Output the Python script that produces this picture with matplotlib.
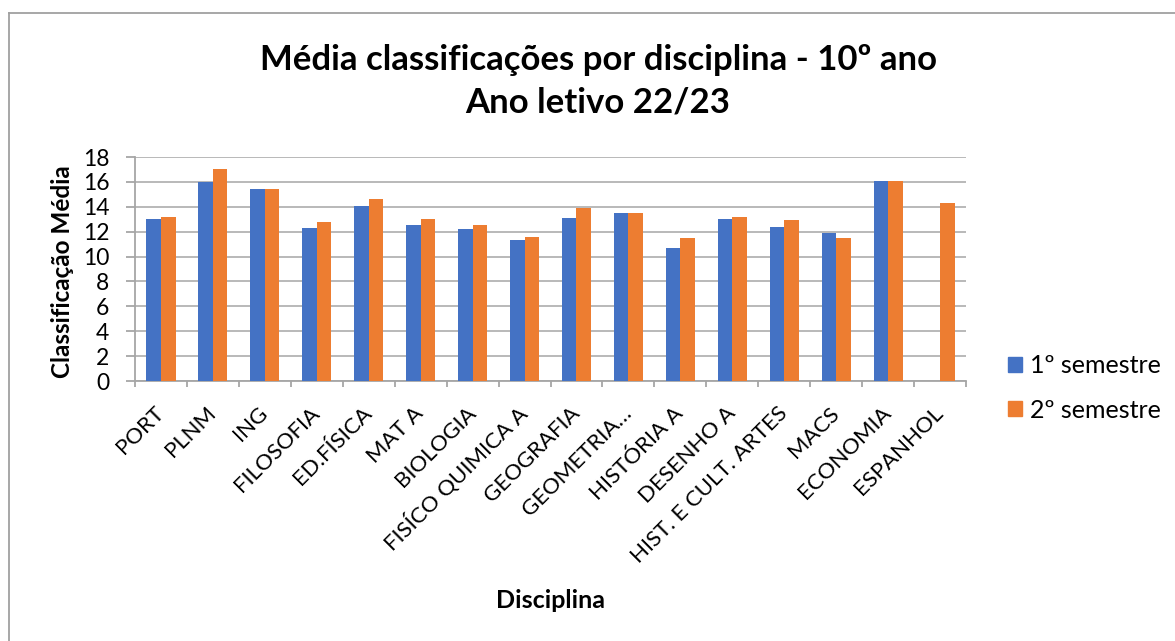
import numpy as np
import matplotlib.pyplot as plt
from matplotlib.patches import Patch
from matplotlib.lines import Line2D

disciplinas = ['PORT', 'PLNM', 'ING', 'FILOSOFIA', 'ED.FÍSICA', 'MAT A',
               'BIOLOGIA', 'FISÍCO QUIMICA A', 'GEOGRAFIA', 'GEOMETRIA…',
               'HISTÓRIA A', 'DESENHO A', 'HIST. E CULT. ARTES', 'MACS',
               'ECONOMIA', 'ESPANHOL']
sem1 = [13.0, 16.0, 15.4, 12.3, 14.1, 12.5, 12.2, 11.3, 13.1, 13.5,
        10.7, 13.0, 12.4, 11.9, 16.1, 0.0]
sem2 = [13.2, 17.0, 15.4, 12.8, 14.6, 13.0, 12.5, 11.6, 13.9, 13.5,
        11.5, 13.2, 12.9, 11.5, 16.1, 14.3]
series_names = ['1º semestre', '2º semestre']
yticks = list(range(0, 19, 2))

BLUE = '#4472C4'
ORANGE = '#ED7D31'
GRID = '#b3b3b3'
AXIS = '#a6a6a6'

plt.rcParams['font.family'] = ['Lato', 'DejaVu Sans']

W, H = 1175, 641
fig = plt.figure(figsize=(W / 100, H / 100), dpi=100)

# axes box in pixels (left, top, right, bottom)
L, T, R, B = 135, 157, 966, 381
ax = fig.add_axes([L / W, 1 - B / H, (R - L) / W, (B - T) / H])

x = np.arange(len(disciplinas))
w = 0.28
ax.bar(x - w / 2, sem1, w, color=BLUE, zorder=3)
ax.bar(x + w / 2, sem2, w, color=ORANGE, zorder=3)

ax.set_xlim(-0.5, len(disciplinas) - 0.5)
ax.set_ylim(0, 18)
ax.set_yticks(yticks)
ax.set_yticklabels([str(v) for v in yticks], fontsize=16.5)
ax.grid(axis='y', color=GRID, lw=1.3, zorder=0)
ax.tick_params(axis='y', length=6.5, width=1.3, color=AXIS, pad=12)

ax.set_xticks(x)
ax.set_xticklabels([])
ax.set_xticks(np.arange(-0.5, len(disciplinas)), minor=True)
ax.tick_params(axis='x', which='major', length=0)
ax.tick_params(axis='x', which='minor', length=4, width=1.3, color=AXIS)

for s in ['top', 'right']:
    ax.spines[s].set_visible(False)
for s in ['left', 'bottom']:
    ax.spines[s].set_color(AXIS)
    ax.spines[s].set_linewidth(1.3)

# rotated category labels
for xi, lab in zip(x, disciplinas):
    ax.annotate(lab, xy=(xi, 0), xycoords=('data', 'axes fraction'),
                xytext=(0, -29), textcoords='offset pixels',
                rotation=45, rotation_mode='anchor', ha='right', va='center',
                fontsize=16)

def fx(px):
    return px / W

def fy(py):
    return 1 - py / H

fig.text(fx(598), fy(60), 'Média classificações por disciplina - 10º ano',
         ha='center', va='center', fontsize=25, fontweight='bold')
fig.text(fx(598), fy(102), 'Ano letivo 22/23',
         ha='center', va='center', fontsize=25, fontweight='bold')
fig.text(fx(63), fy(272), 'Classificação Média', rotation=90,
         ha='center', va='center', fontsize=17.5, fontweight='bold')
fig.text(fx(550), fy(600), 'Disciplina', ha='center', va='center',
         fontsize=18, fontweight='bold')

handles = [Patch(color=BLUE, label=series_names[0]),
           Patch(color=ORANGE, label=series_names[1])]
fig.legend(handles=handles, loc='center left',
           bbox_to_anchor=(fx(1008), fy(388)), frameon=False, fontsize=18,
           handlelength=0.56, handleheight=0.56, handletextpad=0.3,
           labelspacing=0.85, borderpad=0, borderaxespad=0)

# chart area border (top and left edges visible)
fig.add_artist(Line2D([fx(8.5), 1], [fy(12.5), fy(12.5)], color='#a0a0a0', lw=1.3))
fig.add_artist(Line2D([fx(8.5), fx(8.5)], [fy(12.5), 0], color='#a0a0a0', lw=1.3))

fig.savefig('out.png', dpi=100)
